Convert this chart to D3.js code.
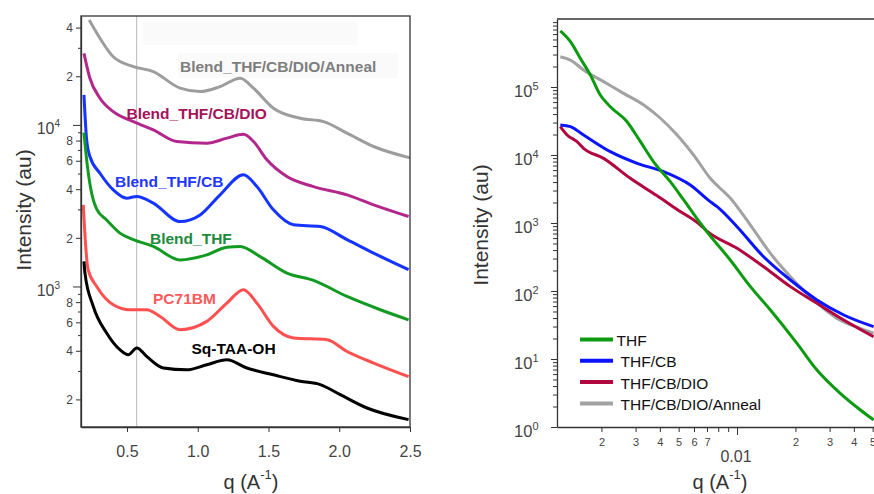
<!DOCTYPE html>
<html>
<head>
<meta charset="utf-8">
<script src="https://cdn.jsdelivr.net/npm/d3@7"></script>
<style>
  body { margin: 0; background: #fff; }
  svg { display: block; font-family: "Liberation Sans", Arial, sans-serif; }
</style>
</head>
<body>
<svg id="chart" width="874" height="494"></svg>
<script>
// ---------- Left panel: 1D GIWAXS line cuts (stacked), q in Å^-1 ----------
const qAnnealL = [0.233, 0.309, 0.403, 0.545, 0.686, 0.875, 1.017, 1.158, 1.30, 1.394, 1.535, 1.724, 1.889, 2.055, 2.243, 2.5];
const iAnnealL = [44600, 34400, 26400, 22960, 21380, 16870, 16070, 17260, 19450, 16870, 12680, 10990, 10470, 8890, 7350, 6250];

const qDioL = [0.196, 0.238, 0.309, 0.403, 0.545, 0.686, 0.852, 1.064, 1.206, 1.323, 1.394, 1.489, 1.630, 1.818, 2.055, 2.243, 2.49];
const iDioL = [27730, 19450, 14620, 12080, 10470, 9310, 7890, 7710, 8280, 8750, 7890, 6080, 4790, 4150, 3690, 3200, 2710];

const qCbL = [0.196, 0.215, 0.238, 0.309, 0.403, 0.498, 0.569, 0.686, 0.875, 1.017, 1.158, 1.323, 1.418, 1.535, 1.677, 1.866, 2.055, 2.243, 2.49];
const iCbL = [15350, 8070, 6370, 5020, 3960, 3520, 3610, 3280, 2520, 2770, 3690, 4910, 4150, 2980, 2410, 2350, 1950, 1610, 1270];

const qThfL = [0.196, 0.215, 0.245, 0.285, 0.356, 0.450, 0.545, 0.686, 0.875, 1.064, 1.206, 1.300, 1.441, 1.630, 1.818, 2.055, 2.29, 2.49];
const iThfL = [8950, 6080, 3980, 3020, 2580, 2140, 1950, 1770, 1460, 1570, 1750, 1770, 1530, 1210, 1090, 867, 718, 622];

const qPcbmL = [0.191, 0.205, 0.225, 0.286, 0.403, 0.521, 0.639, 0.734, 0.875, 1.064, 1.206, 1.323, 1.418, 1.535, 1.677, 1.913, 2.055, 2.243, 2.49];
const iPcbmL = [3200, 1950, 1270, 1000, 771, 718, 718, 652, 540, 608, 789, 955, 789, 566, 480, 468, 396, 336, 277];

const qSqL = [0.196, 0.203, 0.262, 0.356, 0.450, 0.509, 0.569, 0.639, 0.757, 0.922, 1.064, 1.206, 1.347, 1.535, 1.724, 1.866, 2.007, 2.196, 2.49];
const iSqL = [1430, 1210, 752, 515, 406, 378, 416, 369, 313, 305, 328, 352, 313, 284, 259, 247, 214, 177, 150];

const leftNames = ["Blend_THF/CB/DIO/Anneal", "Blend_THF/CB/DIO", "Blend_THF/CB", "Blend_THF", "PC71BM", "Sq-TAA-OH"];
const leftXTicks = [0.5, 1.0, 1.5, 2.0, 2.5];
const leftYMajor = [1000, 10000];
const leftYLabeled = [200, 400, 600, 800, 2000, 4000, 6000, 8000, 20000, 40000];
const markerQ = 0.568;

// ---------- Right panel: SAXS, log-log ----------
const qThfR = [0.001227, 0.001384, 0.001556, 0.001754, 0.001972, 0.002223, 0.002710, 0.003177, 0.003715, 0.004529, 0.005309, 0.006471, 0.006998, 0.009226, 0.01172, 0.01486, 0.02037, 0.02582, 0.03404, 0.04325, 0.05058];
const iThfR = [667000, 463000, 264000, 150000, 76200, 51300, 30900, 15700, 7940, 4050, 2180, 991, 740, 286, 116, 52.6, 17.0, 6.89, 3.13, 1.78, 1.27];

const qCbR = [0.001227, 0.001384, 0.001618, 0.002223, 0.003055, 0.004188, 0.005741, 0.007278, 0.007889, 0.01, 0.01371, 0.01884, 0.02582, 0.03548, 0.05058];
const iCbR = [27600, 26100, 19700, 11200, 7550, 5680, 3620, 2060, 1740, 883, 319, 145, 73.8, 44.4, 29.9];

const qDioR = [0.001227, 0.001330, 0.001496, 0.001618, 0.002051, 0.002818, 0.003873, 0.004909, 0.006471, 0.006998, 0.01, 0.01371, 0.01884, 0.02582, 0.03548, 0.05058];
const iDioR = [26100, 19700, 15700, 12500, 8930, 4540, 2510, 1580, 933, 760, 425, 228, 116, 65.9, 37.5, 21.3];

const qAnnR = [0.001227, 0.001384, 0.001618, 0.002051, 0.002600, 0.003304, 0.004027, 0.004909, 0.005970, 0.007278, 0.009247, 0.01172, 0.01486, 0.01884, 0.02483, 0.03273, 0.04325, 0.05058];
const iAnnR = [279000, 249000, 178000, 120000, 80700, 54300, 34700, 19700, 10000, 4540, 2310, 933, 358, 162, 73.8, 39.6, 28.2, 23.9];

const rightNames = ["THF", " THF/CB", " THF/CB/DIO", " THF/CB/DIO/Anneal"];
const rightXTicks = [0.002, 0.003, 0.004, 0.005, 0.006, 0.007, 0.008, 0.009, 0.01, 0.02, 0.03, 0.04, 0.05];
const rightXLabeled = [0.002, 0.003, 0.004, 0.005, 0.006, 0.007, 0.02, 0.03, 0.04, 0.05];
const rightYMajor = [1, 10, 100, 1000, 10000, 100000];

// ---------- drawing ----------
const svg = d3.select("#chart");
const zip = (qs, is) => qs.map((q, k) => [q, is[k]]);
const axisColor = "#333";

function styleAxis(g) {
  g.select(".domain").attr("stroke", axisColor).attr("stroke-width", 1.3);
  g.selectAll(".tick line").attr("stroke", axisColor).attr("stroke-width", 1);
  g.selectAll(".tick text").attr("fill", "#444");
}

function decadeLabel(sel, exp, xRight, big, small) {
  const t = sel.append("text")
    .attr("x", xRight).attr("y", 9)
    .attr("text-anchor", "end").attr("fill", "#444");
  t.append("tspan").attr("font-size", big).text("10");
  t.append("tspan").attr("font-size", small).attr("dy", -7).text(exp);
}

// ===== Left panel =====
const L = { x0: 81, x1: 410, y0: 16, y1: 427 };
const xL = d3.scaleLinear().domain([0.175, 2.5]).range([L.x0, L.x1]);
const yL = d3.scaleLog().domain([135, 47200]).range([L.y1, L.y0]);

// faint label backdrops
svg.append("rect").attr("x", 143).attr("y", 22).attr("width", 214).attr("height", 23).attr("fill", "#fafafa");
svg.append("rect").attr("x", 178).attr("y", 53).attr("width", 220).attr("height", 25).attr("fill", "#fafafa");

svg.append("line")
  .attr("x1", xL(markerQ)).attr("x2", xL(markerQ))
  .attr("y1", L.y0).attr("y2", L.y1)
  .attr("stroke", "#c4c4c4").attr("stroke-width", 1.2);

const leftSeries = [
  { d: zip(qAnnealL, iAnnealL), c: "#9d9d9d" },
  { d: zip(qDioL, iDioL), c: "#b3278c" },
  { d: zip(qCbL, iCbL), c: "#1534ff" },
  { d: zip(qThfL, iThfL), c: "#139a22" },
  { d: zip(qPcbmL, iPcbmL), c: "#ff4f4f" },
  { d: zip(qSqL, iSqL), c: "#000000" }
];
const lineL = d3.line().x(d => xL(d[0])).y(d => yL(d[1])).curve(d3.curveMonotoneX);
svg.append("g").selectAll("path").data(leftSeries).join("path")
  .attr("d", s => lineL(s.d)).attr("fill", "none")
  .attr("stroke", s => s.c).attr("stroke-width", 3).attr("stroke-linejoin", "round");

// series labels
const leftLabelStyle = [
  { x: 180, y: 72, c: "#7e7e7e" },
  { x: 126.5, y: 118.5, c: "#a5135c" },
  { x: 115, y: 187, c: "#2336ff" },
  { x: 150, y: 243.5, c: "#1d8b3c" },
  { x: 153, y: 303.5, c: "#ff5a5a" },
  { x: 191.5, y: 353.5, c: "#000000" }
];
svg.append("g").selectAll("text").data(leftNames).join("text")
  .attr("x", (d, k) => leftLabelStyle[k].x).attr("y", (d, k) => leftLabelStyle[k].y)
  .attr("fill", (d, k) => leftLabelStyle[k].c)
  .attr("font-size", 15.5).attr("font-weight", "bold").text(d => d);

// frame
svg.append("rect").attr("x", L.x0).attr("y", L.y0).attr("width", L.x1 - L.x0).attr("height", L.y1 - L.y0)
  .attr("fill", "none").attr("stroke", axisColor).attr("stroke-width", 1.3);

// x axis
svg.append("g").attr("transform", `translate(0,${L.y1})`)
  .call(d3.axisBottom(xL).tickValues(leftXTicks).tickSize(5).tickSizeOuter(0).tickPadding(14).tickFormat(d3.format(".1f")))
  .call(styleAxis)
  .call(g => g.selectAll(".tick text").attr("font-size", 16));

// y axis
const leftYTicks = [];
for (let dec = 100; dec < 100000; dec *= 10)
  for (let m = 1; m < 10; m++) { const v = m * dec; if (v >= 135 && v <= 47200) leftYTicks.push(v); }
svg.append("g").attr("transform", `translate(${L.x0},0)`)
  .call(d3.axisLeft(yL).tickValues(leftYTicks).tickSizeOuter(0).tickFormat(""))
  .call(styleAxis)
  .call(g => {
    g.selectAll(".tick").each(function (v) {
      const t = d3.select(this);
      const major = leftYMajor.includes(v), lab = leftYLabeled.includes(v);
      t.select("line").attr("x2", major ? -8 : lab ? -5 : -3);
      if (major) decadeLabel(t, String(Math.round(Math.log10(v))), -21, 16, 10);
      else if (lab) t.append("text").attr("x", -8).attr("dy", "0.35em").attr("text-anchor", "end")
        .attr("font-size", 12).attr("fill", "#444").text(String(Math.round(v / Math.pow(10, Math.floor(Math.log10(v))))));
    });
  });

// axis titles
svg.append("text").attr("transform", "translate(31,210) rotate(-90)")
  .attr("text-anchor", "middle").attr("font-size", 21).attr("fill", "#333").text("Intensity (au)");
function qTitle(cx) {
  const t = svg.append("text").attr("x", cx).attr("y", 489).attr("text-anchor", "middle")
    .attr("font-size", 20).attr("fill", "#333");
  t.append("tspan").text("q (A");
  t.append("tspan").attr("font-size", 13).attr("dy", -10).text("-1");
  t.append("tspan").attr("dy", 10).text(")");
}
qTitle(251);

// ===== Right panel =====
const R = { x0: 557, y0: 19, y1: 427 };
const xR = d3.scaleLog().domain([0.00118, 0.06]).range([557, 888]);
const yR = d3.scaleLog().domain([1, 1e6]).range([R.y1, R.y0]);

svg.append("clipPath").attr("id", "clipR")
  .append("rect").attr("x", R.x0).attr("y", R.y0).attr("width", 874 - R.x0).attr("height", R.y1 - R.y0);

const rightSeries = [
  { d: zip(qThfR, iThfR), c: "#0c9a10" },
  { d: zip(qCbR, iCbR), c: "#0a14ff" },
  { d: zip(qDioR, iDioR), c: "#b2063e" },
  { d: zip(qAnnR, iAnnR), c: "#a2a2a2" }
];
const lineR = d3.line().x(d => xR(d[0])).y(d => yR(d[1])).curve(d3.curveMonotoneX);
svg.append("g").attr("clip-path", "url(#clipR)")
  .selectAll("path").data(rightSeries.slice().reverse()).join("path")
  .attr("d", s => lineR(s.d)).attr("fill", "none")
  .attr("stroke", s => s.c).attr("stroke-width", 3).attr("stroke-linejoin", "round");

// frame: top edge (left and bottom come from the axes)
svg.append("line").attr("x1", R.x0).attr("x2", 874).attr("y1", R.y0).attr("y2", R.y0)
  .attr("stroke", axisColor).attr("stroke-width", 1.3);

// x axis
svg.append("g").attr("transform", `translate(0,${R.y1})`)
  .call(d3.axisBottom(xR).tickValues(rightXTicks).tickSize(5).tickSizeOuter(0).tickPadding(6)
    .tickFormat(v => rightXLabeled.includes(v) ? String(Math.round(v / Math.pow(10, Math.floor(Math.log10(v) + 1e-9)))) : ""))
  .call(styleAxis)
  .call(g => {
    g.selectAll(".tick text").attr("font-size", 11);
    g.selectAll(".tick").filter(v => v === 0.01).select("line").attr("y2", 8);
  });
svg.append("text").attr("x", xR(0.01) - 1).attr("y", 461.5).attr("text-anchor", "middle")
  .attr("font-size", 16).attr("fill", "#444").text("0.01");

// y axis
const rightYTicks = [];
for (let dec = 1; dec < 1e6; dec *= 10)
  for (let m = 1; m < 10; m++) rightYTicks.push(m * dec);
svg.append("g").attr("transform", `translate(${R.x0},0)`)
  .call(d3.axisLeft(yR).tickValues(rightYTicks).tickSizeOuter(0).tickFormat(""))
  .call(styleAxis)
  .call(g => {
    g.selectAll(".tick").each(function (v) {
      const t = d3.select(this);
      const major = rightYMajor.includes(v);
      t.select("line").attr("x2", major ? -6 : -4);
      if (major) decadeLabel(t, String(Math.round(Math.log10(v))), -18.5, 16.5, 11);
    });
  });

svg.append("text").attr("transform", "translate(488,225) rotate(-90)")
  .attr("text-anchor", "middle").attr("font-size", 21).attr("fill", "#333").text("Intensity (au)");
qTitle(720);

// legend
const legend = svg.append("g").selectAll("g").data(rightNames).join("g")
  .attr("transform", (d, k) => `translate(580,${339.5 + k * 21.3})`);
legend.append("line").attr("x1", 0).attr("x2", 33).attr("y1", 0).attr("y2", 0)
  .attr("stroke", (d, k) => rightSeries[k].c).attr("stroke-width", 4);
legend.append("text").attr("x", 36.5).attr("y", 6.5)
  .style("white-space", "pre").attr("font-size", 15.5).attr("fill", "#111").text(d => d);
</script>
</body>
</html>
